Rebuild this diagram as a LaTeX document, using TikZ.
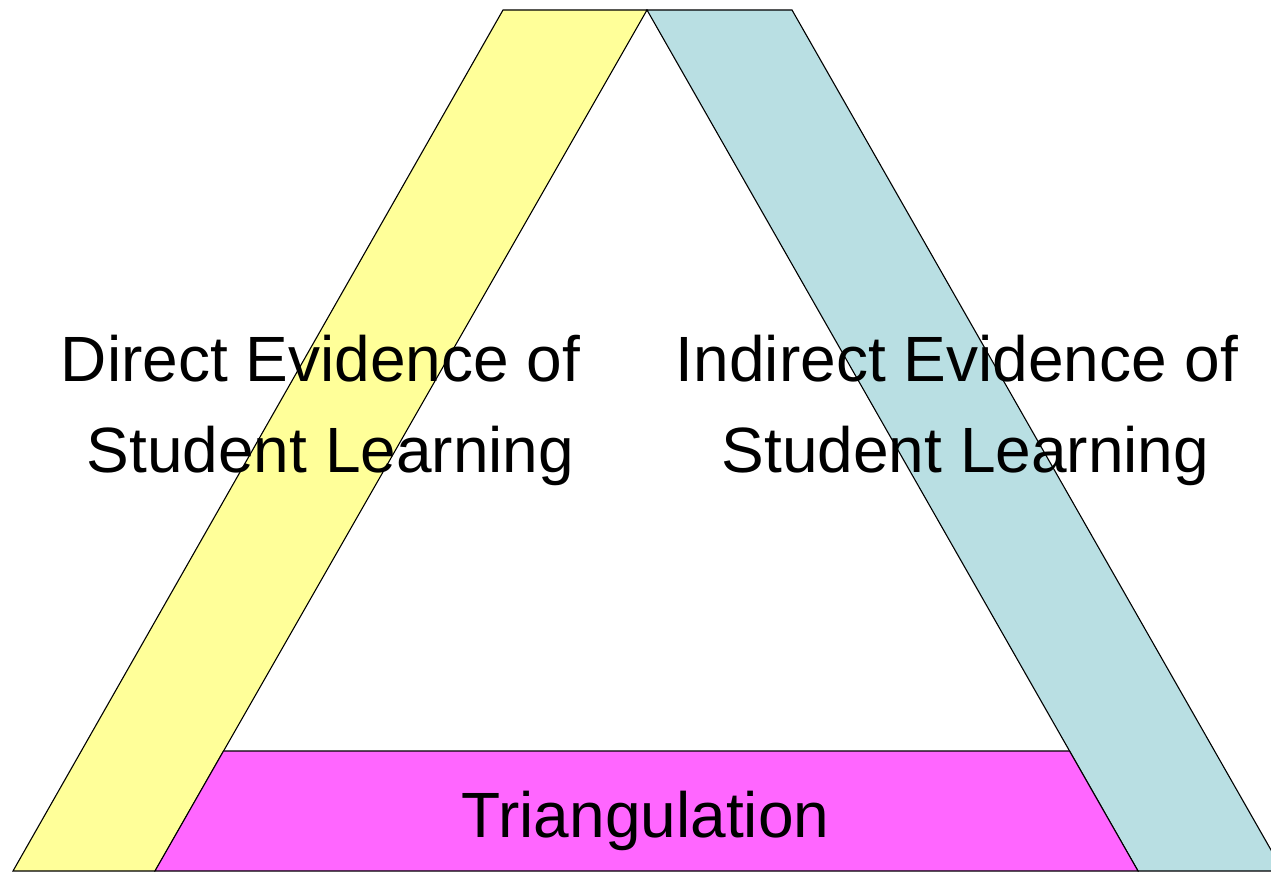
\documentclass[tikz,border=0pt]{standalone}
\usepackage{fontspec}
\setmainfont{Liberation Sans}
\definecolor{bandyellow}{HTML}{FFFF99}
\definecolor{bandblue}{HTML}{B9DFE3}
\definecolor{bandpink}{HTML}{FF66FF}
\begin{document}
\begin{tikzpicture}[x=1pt,y=-1pt,
  band/.style={draw=black,line width=1.1pt,line join=miter},
  lbl/.style={anchor=base,inner sep=0pt,font=\fontsize{64}{64}\selectfont}]
\useasboundingbox (0,0) rectangle (1271,872);
\clip (0,0) rectangle (1271,872);
\path[band,fill=bandyellow] (503,10) -- (647,10) -- (155,871) -- (13,871) -- cycle;
\path[band,fill=bandblue] (647,10) -- (792,10) -- (1283,871) -- (1138,871) -- cycle;
\path[band,fill=bandpink] (223.5,751) -- (1069.5,751) -- (1138,871) -- (155,871) -- cycle;
\node[lbl] (d1) at (320.5,381) {Direct Evidence of};
\node[lbl] (d2) at (330.5,472) {Student Learning};
\node[lbl] (i1) at (957,381) {Indirect Evidence of};
\node[lbl] (i2) at (965.5,472) {Student Learning};
\node[lbl] (t) at (645.5,837) {Triangulation};
\end{tikzpicture}
\end{document}
